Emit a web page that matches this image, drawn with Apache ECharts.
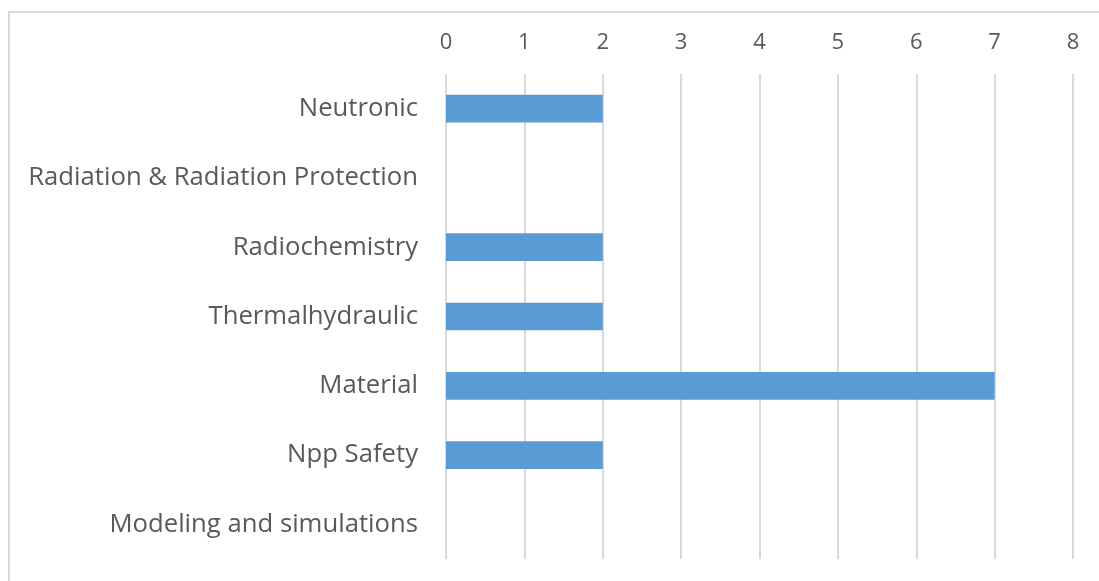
<!DOCTYPE html>
<html>
<head>
<meta charset="utf-8">
<script src="https://cdn.jsdelivr.net/npm/echarts@6/dist/echarts.min.js"></script>
<style>
  html, body { margin: 0; padding: 0; background: #fff; }
  #chart { width: 1099px; height: 581px; }
</style>
</head>
<body>
<div id="chart"></div>
<script>
var categories = ['Neutronic', 'Radiation & Radiation Protection', 'Radiochemistry',
    'Thermalhydraulic', 'Material', 'Npp Safety', 'Modeling and simulations'];
var counts = [2, 0, 2, 2, 7, 2, 0];
var tickLabels = ['0', '1', '2', '3', '4', '5', '6', '7', '8'];

var chart = echarts.init(document.getElementById('chart'));
chart.setOption({
    animation: false,
    graphic: [{
        type: 'rect',
        shape: {x: 9, y: 12, width: 1200, height: 700},
        style: {fill: 'none', stroke: '#d9d9d9', lineWidth: 2},
        silent: true
    }],
    grid: {left: 446, right: 26, top: 74, bottom: 22},
    xAxis: {
        type: 'value',
        position: 'top',
        min: 0,
        max: 8,
        interval: 1,
        axisLine: {show: false},
        axisTick: {show: false},
        splitLine: {lineStyle: {color: '#d9d9d9', width: 2}},
        axisLabel: {
            color: '#595959',
            fontSize: 22,
            fontFamily: 'Open Sans',
            margin: 20,
            formatter: function (v) { return tickLabels[v]; }
        }
    },
    yAxis: {
        type: 'category',
        inverse: true,
        data: categories,
        axisLine: {show: false},
        axisTick: {show: false},
        splitLine: {show: false},
        axisLabel: {
            color: '#595959',
            fontSize: 25.7,
            fontFamily: 'Open Sans',
            margin: 28
        }
    },
    series: [{
        type: 'bar',
        data: counts,
        barWidth: '40%',
        itemStyle: {color: '#5b9bd5'}
    }]
});
</script>
</body>
</html>
